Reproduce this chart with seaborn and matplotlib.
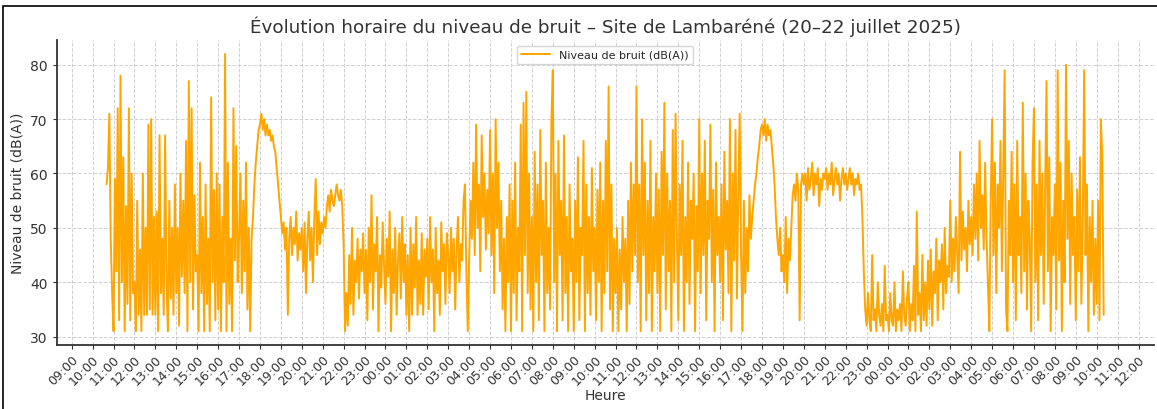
import pandas as pd
import numpy as np

import seaborn as sns
import matplotlib.pyplot as plt
import matplotlib.dates as mdates
from matplotlib.patches import Rectangle

# one reading every 4 minutes, starting 20 July 2025 at 10:40
start = "2025-07-20 10:40"
step = "4min"

# 20 July (10:40 -> 23:56), one row per hour
day1 = [
    58, 61, 71, 48, 38,
    31, 59, 42, 72, 33, 78, 40, 63, 31, 54, 36, 72, 33, 60, 38,
    40, 31, 55, 34, 46, 31, 60, 34, 50, 34, 69, 35, 70, 34, 52,
    34, 53, 31, 67, 38, 48, 34, 67, 40, 31, 55, 37, 50, 34, 58,
    38, 50, 32, 60, 41, 55, 38, 66, 31, 77, 40, 72, 35, 56, 42,
    45, 31, 62, 38, 52, 31, 58, 36, 48, 31, 74, 40, 57, 33, 60,
    35, 58, 31, 52, 40, 82, 31, 62, 36, 48, 31, 72, 44, 65, 40,
    48, 60, 38, 55, 42, 62, 35, 50, 31, 48, 52, 58, 62, 65, 68,
    69, 71, 68, 70, 67, 69, 67, 68, 66, 67, 65, 64, 61, 58, 55,
    52, 49, 51, 46, 50, 34, 48, 52, 45, 50, 47, 53, 44, 49, 46,
    50, 42, 51, 38, 48, 53, 44, 50, 40, 52, 59, 45, 53, 47, 51,
    49, 52, 50, 54, 56, 53, 57, 55, 54, 56, 58, 56, 55, 57, 54,
    47, 31, 38, 32, 45, 36, 50, 34, 44, 40, 48, 37, 46, 42, 49,
    38, 46, 33, 50, 40, 56, 35, 47, 42, 52, 31, 45, 39, 51, 43,
]

# 21 July (00:00 -> 23:56)
day2 = [
    36, 48, 41, 53, 31, 46, 38, 50, 34, 44, 49, 37, 52, 40, 47,
    34, 45, 31, 50, 34, 47, 39, 52, 34, 44, 36, 49, 34, 46, 41,
    48, 35, 52, 40, 46, 31, 50, 38, 44, 34, 51, 42, 47, 36, 49,
    45, 38, 50, 42, 48, 35, 46, 52, 40, 47, 44, 55, 58, 42, 31,
    44, 55, 48, 62, 45, 69, 50, 58, 42, 67, 52, 60, 46, 57, 49,
    68, 45, 60, 38, 70, 50, 62, 42, 55, 35, 48, 31, 52, 40, 58,
    31, 55, 38, 62, 33, 50, 42, 69, 31, 73, 45, 75, 38, 60, 35,
    52, 31, 64, 40, 58, 33, 68, 45, 55, 31, 62, 38, 50, 35, 70,
    79, 40, 60, 31, 66, 45, 55, 33, 67, 38, 52, 31, 58, 42, 48,
    31, 55, 40, 63, 33, 50, 45, 66, 31, 58, 38, 52, 34, 61, 42,
    50, 33, 57, 40, 62, 31, 55, 38, 66, 42, 76, 35, 58, 31, 48,
    38, 50, 31, 46, 35, 52, 40, 48, 31, 55, 36, 62, 42, 58, 45,
    76, 40, 58, 31, 70, 45, 62, 33, 55, 38, 66, 31, 52, 42, 60,
    38, 57, 31, 64, 45, 73, 35, 60, 42, 55, 31, 68, 40, 71, 48,
    33, 58, 45, 66, 31, 52, 40, 62, 36, 55, 48, 60, 31, 54, 42,
    70, 38, 60, 45, 66, 33, 55, 48, 69, 40, 57, 31, 62, 45, 52,
    40, 58, 33, 64, 46, 55, 38, 70, 31, 60, 44, 68, 37, 56, 71,
    45, 31, 55, 38, 50, 42, 56, 48, 52, 55, 58, 60, 63, 65, 68,
    69, 67, 70, 66, 69, 67, 68, 65, 62, 58, 52, 48, 45, 50, 42,
    45, 40, 52, 38, 48, 44, 50, 56, 58, 55, 60, 57, 33, 58, 60,
    58, 60, 55, 61, 57, 59, 62, 56, 60, 58, 61, 54, 59, 57, 60,
    59, 61, 57, 60, 58, 62, 56, 59, 61, 58, 60, 55, 59, 61, 58,
    60, 57, 59, 61, 58, 60, 56, 59, 58, 60, 57, 58, 52, 42, 35,
    32, 38, 33, 31, 45, 33, 35, 31, 40, 34, 32, 36, 31, 43, 33,
]

# 22 July (00:00 -> 10:20)
day3 = [
    34, 31, 38, 33, 32, 40, 31, 35, 33, 36, 31, 42, 34, 32, 37,
    40, 31, 36, 33, 43, 31, 53, 34, 38, 31, 45, 33, 40, 32, 44,
    35, 46, 32, 42, 38, 48, 33, 44, 40, 47, 35, 50, 38, 43, 41,
    55, 40, 48, 42, 52, 45, 38, 64, 44, 53, 46, 50, 42, 55, 47,
    52, 45, 58, 48, 60, 44, 66, 50, 56, 46, 62, 48, 40, 31, 55,
    70, 45, 62, 38, 58, 50, 66, 42, 60, 79, 35, 31, 55, 45, 64,
    40, 58, 33, 66, 45, 52, 38, 73, 42, 60, 35, 55, 48, 31, 62,
    72, 40, 58, 33, 66, 45, 60, 36, 56, 77, 42, 63, 31, 52, 45,
    58, 35, 79, 44, 62, 31, 55, 40, 80, 48, 66, 36, 60, 45, 52,
    33, 57, 42, 63, 36, 50, 79, 45, 58, 31, 52, 40, 55, 34, 48,
    36, 55, 33, 70, 63, 34,
]

levels = day1 + day2 + day3
df = pd.DataFrame({
    "Heure": pd.date_range(start, periods=len(levels), freq=step),
    "Niveau": levels,
})

sns.set_style("white", {"grid.linestyle": "--", "axes.edgecolor": "#333333"})
plt.rcParams["font.family"] = ["DejaVu Sans"]

fig = plt.figure(figsize=(11.57, 4.10), dpi=100)
ax = fig.add_axes([0.049, 0.156, 0.948, 0.744])

sns.lineplot(data=df, x="Heure", y="Niveau", color="orange", linewidth=1.4,
             label="Niveau de bruit (dB(A))", ax=ax)

ax.xaxis.set_major_locator(mdates.HourLocator(interval=1))
ax.xaxis.set_major_formatter(mdates.DateFormatter("%H:%M"))
plt.setp(ax.get_xticklabels(), rotation=45, ha="right", rotation_mode="anchor")
ax.tick_params(axis="both", colors="#333333", length=3, bottom=True, left=True)
ax.tick_params(axis="x", labelsize=9, pad=2)
ax.tick_params(axis="y", labelsize=10)
ax.grid(True, linestyle="--", color="#d0d0d0", linewidth=0.7)
sns.despine(ax=ax)
for s in ("left", "bottom"):
    ax.spines[s].set_linewidth(1.3)

ax.set_title("Évolution horaire du niveau de bruit – Site de Lambaréné (20–22 juillet 2025)",
             fontsize=13.2, color="#333333")
ax.set_xlabel("Heure", fontsize=10, color="#333333", labelpad=1)
ax.set_ylabel("Niveau de bruit (dB(A))", fontsize=10, color="#333333")
ax.legend(loc="upper center", fontsize=8, frameon=True, handlelength=2.6)

fig.add_artist(Rectangle((3 / 1157, -0.05), 1.1, 1 - 7 / 410 + 0.05,
                         transform=fig.transFigure, fill=False, ec="black", lw=1.2))

fig.savefig("out.png", dpi=100)
